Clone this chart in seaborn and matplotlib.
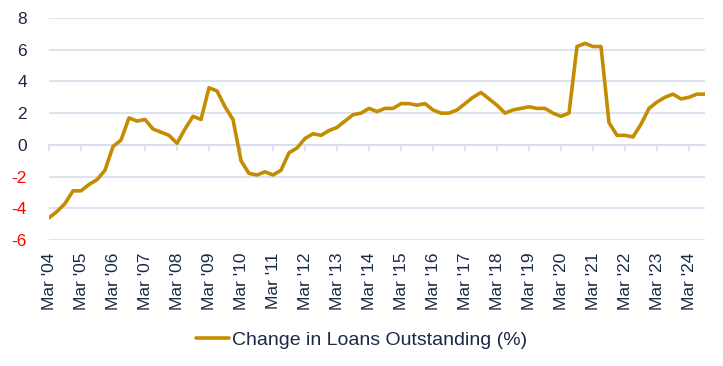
import numpy as np
import pandas as pd
import matplotlib
matplotlib.use('Agg')
import matplotlib.pyplot as plt
import seaborn as sns

# quarterly change in loans outstanding (%), Mar '04 .. Sep '24
loan_change = [-4.6, -4.2, -3.7, -2.9, -2.9, -2.5, -2.2, -1.6, -0.1, 0.3,
               1.7, 1.5, 1.6, 1.0, 0.8, 0.6, 0.1, 1.0, 1.8, 1.6,
               3.6, 3.4, 2.4, 1.6, -1.0, -1.8, -1.9, -1.7, -1.9, -1.6,
               -0.5, -0.2, 0.4, 0.7, 0.6, 0.9, 1.1, 1.5, 1.9, 2.0,
               2.3, 2.1, 2.3, 2.3, 2.6, 2.6, 2.5, 2.6, 2.2, 2.0,
               2.0, 2.2, 2.6, 3.0, 3.3, 2.9, 2.5, 2.0, 2.2, 2.3,
               2.4, 2.3, 2.3, 2.0, 1.8, 2.0, 6.2, 6.4, 6.2, 6.2,
               1.4, 0.6, 0.6, 0.5, 1.3, 2.3, 2.7, 3.0, 3.2, 2.9,
               3.0, 3.2, 3.2]
year_labels = ["Mar '04", "Mar '05", "Mar '06", "Mar '07", "Mar '08", "Mar '09",
               "Mar '10", "Mar '11", "Mar '12", "Mar '13", "Mar '14", "Mar '15",
               "Mar '16", "Mar '17", "Mar '18", "Mar '19", "Mar '20", "Mar '21",
               "Mar '22", "Mar '23", "Mar '24"]
y_ticks = [-6, -4, -2, 0, 2, 4, 6, 8]

df = pd.DataFrame({'quarter': np.arange(len(loan_change)), 'value': loan_change})

LINE = '#C48C00'
GRID = '#D6DFEE'
TEXT = '#1C2945'

sns.set_style('white')
plt.rcParams['font.family'] = ['Liberation Sans', 'DejaVu Sans']

fig, ax = plt.subplots(figsize=(7.23, 3.66), dpi=100)
fig.subplots_adjust(left=49 / 723, right=705 / 723, top=1 - 18 / 366, bottom=1 - 240 / 366)

sns.lineplot(data=df, x='quarter', y='value', ax=ax, color=LINE, lw=2.6,
             label='Change in Loans Outstanding (%)', zorder=3)

ax.set_xlim(0, len(loan_change) - 1)
ax.set_ylim(-6, 8)
ax.set_yticks(y_ticks)
ax.set_yticklabels([str(t) for t in y_ticks], fontsize=12.5)
for lbl, t in zip(ax.get_yticklabels(), y_ticks):
    lbl.set_color('#FF0000' if t < 0 else TEXT)
ax.grid(axis='y', color=GRID, lw=1.2)
ax.set_axisbelow(True)

ax.set_xticks(np.arange(0, len(loan_change), 4))
ax.set_xticklabels(year_labels, rotation=90, fontsize=12.5, color=TEXT)
ax.tick_params(axis='x', length=0, pad=9)
ax.tick_params(axis='y', length=0, pad=16)
ax.set_xlabel('')
ax.set_ylabel('')
for s in ax.spines.values():
    s.set_visible(False)

# axis line with ticks crossing at zero
zero_ax = ax.secondary_xaxis(6 / 14)
zero_ax.set_xticks(np.arange(0, len(loan_change), 4))
zero_ax.tick_params(axis='x', length=4, width=1.2, color=GRID, labelbottom=False,
                    labeltop=False, direction='out')
zero_ax.spines['bottom'].set_color(GRID)
zero_ax.spines['bottom'].set_linewidth(1.2)
zero_ax.spines['top'].set_visible(False)

ax.legend_.remove()
handles, labels = ax.get_legend_handles_labels()
leg = fig.legend(handles, labels, loc='center', bbox_to_anchor=(0.5, 1 - 340 / 366),
                 frameon=False, fontsize=14, handlelength=1.7, handletextpad=0.15)
for t in leg.get_texts():
    t.set_color(TEXT)

fig.savefig('out.png', dpi=100)
